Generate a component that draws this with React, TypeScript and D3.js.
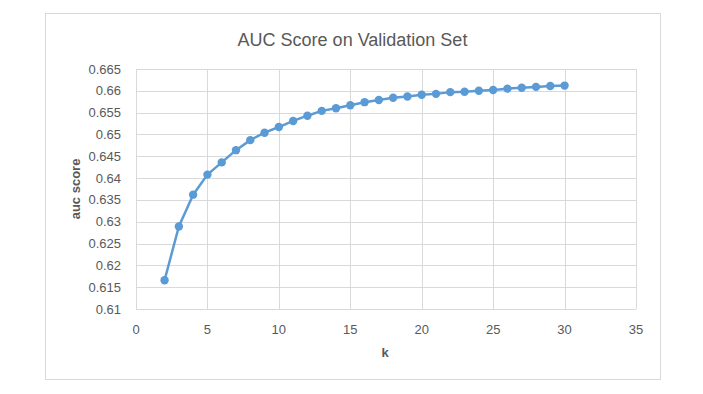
import React, { useEffect, useRef } from 'react';
import * as d3 from 'd3';

// k values and the AUC
const kValues = [2, 3, 4, 5, 6, 7, 8, 9, 10, 11, 12, 13, 14, 15, 16, 17, 18, 19, 20, 21, 22, 23, 24, 25, 26, 27, 28, 29, 30];
const aucScores = [
  0.6166, 0.6289, 0.6362, 0.6408, 0.6436, 0.6464, 0.6487, 0.6504, 0.6517, 0.6531,
  0.6543, 0.6554, 0.656, 0.6567, 0.6574, 0.6579, 0.6584, 0.6587, 0.6591, 0.6593,
  0.6597, 0.6598, 0.66, 0.6602, 0.6605, 0.6607, 0.6609, 0.6611, 0.6612,
];
const xTicks = [0, 5, 10, 15, 20, 25, 30, 35];
const yTicks = [0.61, 0.615, 0.62, 0.625, 0.63, 0.635, 0.64, 0.645, 0.65, 0.655, 0.66, 0.665];

const title = 'AUC Score on Validation Set';
const xLabel = 'k';
const yLabel = 'auc score';

const App: React.FC = () => {
  const ref = useRef<SVGSVGElement | null>(null);

  useEffect(() => {
    document.body.style.margin = '0';
    if (!ref.current) return;
    const svg = d3.select(ref.current);
    svg.selectAll('*').remove();

    const font = '"Liberation Sans", Arial, sans-serif';
    const textColor = '#595959';
    const gridColor = '#d9d9d9';

    // chart frame
    svg.append('rect')
      .attr('x', 45.5).attr('y', 13.5)
      .attr('width', 615).attr('height', 366)
      .attr('fill', '#fff')
      .attr('stroke', gridColor)
      .attr('stroke-width', 1);

    const x = d3.scaleLinear().domain([0, 35]).range([136, 636]);
    const y = d3.scaleLinear().domain([0.61, 0.665]).range([309, 69]);

    const g = svg.append('g');

    // gridlines
    g.selectAll('line.hgrid')
      .data(yTicks)
      .enter()
      .append('line')
      .attr('class', 'hgrid')
      .attr('x1', x(0)).attr('x2', x(35))
      .attr('y1', d => Math.round(y(d)) + 0.5)
      .attr('y2', d => Math.round(y(d)) + 0.5)
      .attr('stroke', gridColor)
      .attr('stroke-width', 1);

    g.selectAll('line.vgrid')
      .data(xTicks)
      .enter()
      .append('line')
      .attr('class', 'vgrid')
      .attr('y1', y(0.61)).attr('y2', y(0.665))
      .attr('x1', d => Math.round(x(d)) + 0.5)
      .attr('x2', d => Math.round(x(d)) + 0.5)
      .attr('stroke', gridColor)
      .attr('stroke-width', 1);

    // tick labels
    g.selectAll('text.ytick')
      .data(yTicks)
      .enter()
      .append('text')
      .attr('class', 'ytick')
      .attr('x', 121)
      .attr('y', d => y(d))
      .attr('dy', '0.35em')
      .attr('text-anchor', 'end')
      .attr('font-family', font)
      .attr('font-size', 13)
      .attr('fill', textColor)
      .text(d => String(+d.toFixed(3)));

    g.selectAll('text.xtick')
      .data(xTicks)
      .enter()
      .append('text')
      .attr('class', 'xtick')
      .attr('x', d => x(d))
      .attr('y', 329)
      .attr('dy', '0.35em')
      .attr('text-anchor', 'middle')
      .attr('font-family', font)
      .attr('font-size', 13)
      .attr('fill', textColor)
      .text(d => String(d));

    // title and axis labels
    svg.append('text')
      .attr('x', 352.5)
      .attr('y', 40)
      .attr('dy', '0.35em')
      .attr('text-anchor', 'middle')
      .attr('font-family', font)
      .attr('font-size', 18)
      .attr('fill', textColor)
      .text(title);

    svg.append('text')
      .attr('x', 385)
      .attr('y', 352)
      .attr('dy', '0.35em')
      .attr('text-anchor', 'middle')
      .attr('font-family', font)
      .attr('font-size', 13)
      .attr('font-weight', 'bold')
      .attr('fill', textColor)
      .text(xLabel);

    svg.append('text')
      .attr('transform', `translate(75,${(y(0.61) + y(0.665)) / 2}) rotate(-90)`)
      .attr('dy', '0.35em')
      .attr('text-anchor', 'middle')
      .attr('font-family', font)
      .attr('font-size', 13)
      .attr('font-weight', 'bold')
      .attr('fill', textColor)
      .text(yLabel);

    // series
    const points = kValues.map((k, i) => ({ k, v: aucScores[i] }));
    const line = d3.line<{ k: number; v: number }>()
      .x(d => x(d.k))
      .y(d => y(d.v));

    g.append('path')
      .datum(points)
      .attr('fill', 'none')
      .attr('stroke', '#5b9bd5')
      .attr('stroke-width', 2.5)
      .attr('stroke-linejoin', 'round')
      .attr('d', line);

    g.selectAll('circle.pt')
      .data(points)
      .enter()
      .append('circle')
      .attr('class', 'pt')
      .attr('cx', d => x(d.k))
      .attr('cy', d => y(d.v))
      .attr('r', 4.2)
      .attr('fill', '#5b9bd5');
  }, []);

  return <svg ref={ref} width={703} height={394} style={{ display: 'block' }} />;
};

export default App;
